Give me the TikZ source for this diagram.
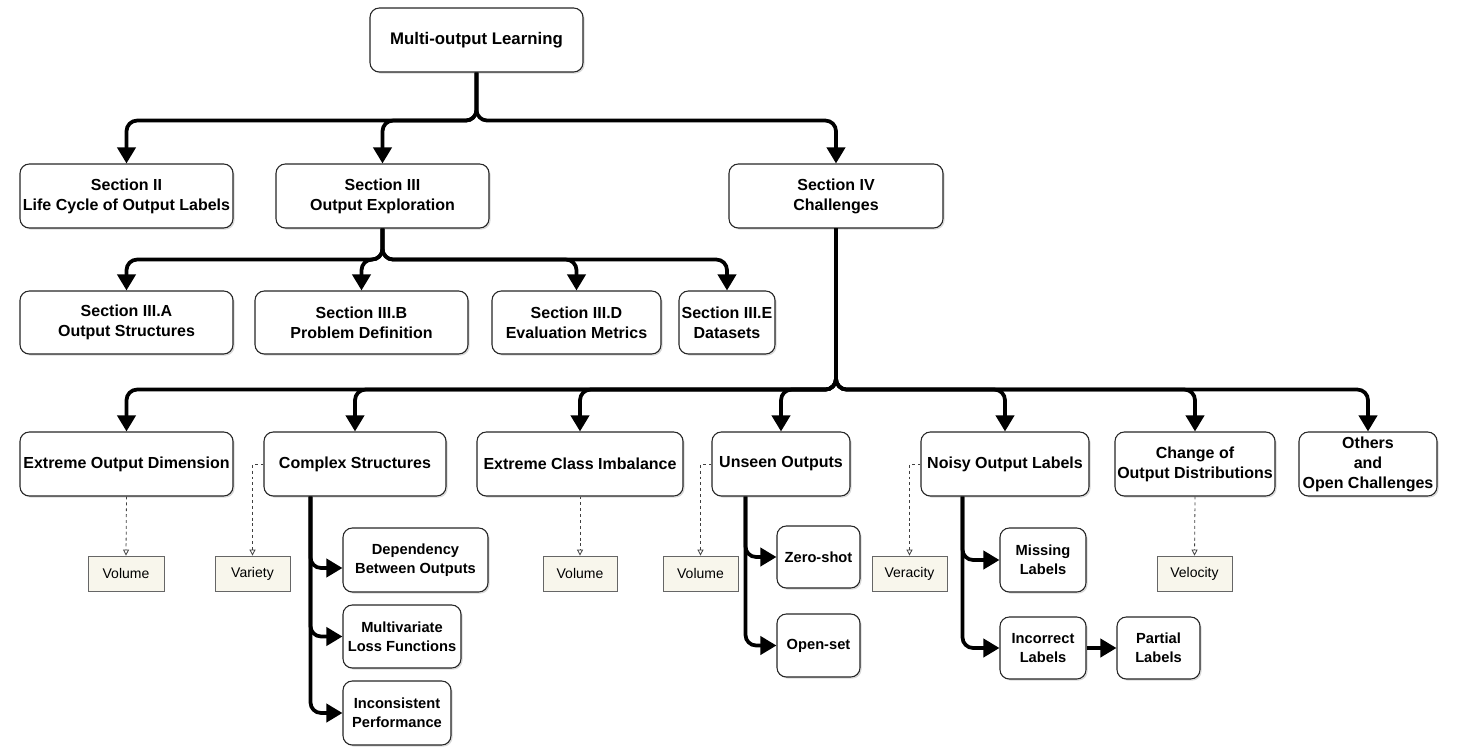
\documentclass[tikz,border=0pt]{standalone}
\usepackage{fontspec}
\setmainfont{Liberation Sans}
\usetikzlibrary{arrows.meta,shadows,calc}
\definecolor{beige}{RGB}{248,246,236}
\newcommand\boxnode[7]{\node[#1, minimum width={(#5-#3)*0.75pt}, minimum height={(#6-#4)*0.75pt}] (#2) at ({(#3+#5)/2},{(#4+#6)/2}) {#7};}
\tikzset{
  mbox/.style={draw=black!85, line width=0.8pt, rounded corners=7pt, fill=white, align=center, inner sep=0pt,
    font=\bfseries\fontsize{12}{15}\selectfont,
    drop shadow={opacity=0.3, shadow xshift=1.2pt, shadow yshift=-1.2pt}},
  sbox/.style={mbox, font=\bfseries\fontsize{11}{14}\selectfont},
  vbox/.style={draw=black!60, line width=0.6pt, fill=beige, inner sep=0pt, font=\fontsize{10.5}{12}\selectfont},
  conn/.style={line width=2.8pt, rounded corners=8pt, -{Triangle[length=12pt,width=13.5pt]}},
  dconn/.style={draw=black!75, line width=0.6pt, dash pattern=on 2.2pt off 2.2pt, -{Triangle[open,length=4.5pt,width=4.5pt]}}
}
\begin{document}
\begin{tikzpicture}[x=0.75pt,y=-0.75pt]
\useasboundingbox (0,0) rectangle (1459,754);
% level 0
\boxnode{mbox,font=\bfseries\fontsize{12.6}{15}\selectfont}{mol}{370}{8}{583}{72}{Multi-output Learning}
% level 1
\boxnode{mbox}{s2}{20}{164}{233}{228}{Section II\\Life Cycle of Output Labels}
\boxnode{mbox}{s3}{276}{164}{489}{228}{Section III\\Output Exploration}
\boxnode{mbox}{s4}{729}{164}{943}{228}{Section IV\\Challenges}
% level 2 (section III)
\boxnode{mbox}{s3a}{20}{291}{233}{354}{Section III.A\\Output Structures}
\boxnode{mbox}{s3b}{255}{291}{468}{354}{Section III.B\\Problem Definition}
\boxnode{mbox}{s3d}{492}{291}{661}{354}{Section III.D\\Evaluation Metrics}
\boxnode{mbox}{s3e}{679}{291}{775}{354}{Section III.E\\Datasets}
% level 2 (section IV)
\boxnode{mbox}{eod}{20}{432}{233}{496}{Extreme Output Dimension}
\boxnode{mbox}{cs}{264}{432}{446}{496}{Complex Structures}
\boxnode{mbox}{eci}{477}{432}{683}{496}{Extreme Class Imbalance}
\boxnode{mbox}{uo}{712}{432}{850}{496}{Unseen Outputs}
\boxnode{mbox}{nol}{921}{432}{1089}{496}{Noisy Output Labels}
\boxnode{mbox}{cod}{1115}{432}{1275}{496}{Change of\\Output Distributions}
\boxnode{mbox}{ooc}{1299}{432}{1437}{496}{Others\\and\\Open Challenges}
% level 3
\boxnode{sbox}{dbo}{343}{528}{488}{592}{Dependency\\Between Outputs}
\boxnode{sbox}{mlf}{343}{605}{461}{668}{Multivariate\\Loss Functions}
\boxnode{sbox}{ip}{343}{681}{451}{745}{Inconsistent\\Performance}
\boxnode{sbox}{zs}{777}{526}{860}{588}{Zero-shot}
\boxnode{sbox}{os}{777}{614}{860}{677}{Open-set}
\boxnode{sbox}{ml}{1000}{528}{1086}{592}{Missing\\Labels}
\boxnode{sbox}{il}{1000}{617}{1086}{679}{Incorrect\\Labels}
\boxnode{sbox}{pl}{1117}{617}{1200}{679}{Partial\\Labels}
% V boxes
\boxnode{vbox}{v1}{88}{556}{164}{591}{Volume}
\boxnode{vbox}{v2}{215}{556}{290}{591}{Variety}
\boxnode{vbox}{v3}{543}{556}{617}{591}{Volume}
\boxnode{vbox}{v4}{663}{556}{738}{591}{Volume}
\boxnode{vbox}{v5}{872}{556}{947}{591}{Veracity}
\boxnode{vbox}{v6}{1157}{556}{1232}{591}{Velocity}
% connectors level 0 -> 1
\draw[conn] (mol.south) -- ++(0,48) -| (s2.north);
\draw[conn] (mol.south) -- ++(0,48) -| (s3.north);
\draw[conn] (mol.south) -- ++(0,48) -| (s4.north);
% section III
\draw[conn] (s3.south) -- ++(0,31) -| (s3a.north);
\draw[conn] (s3.south) -- ++(0,31) -| (s3b.north);
\draw[conn] (s3.south) -- ++(0,31) -| (s3d.north);
\draw[conn] (s3.south) -- ++(0,31) -| (s3e.north);
% section IV
\foreach \t in {eod,cs,eci,uo,nol,cod,ooc}{
  \draw[conn] (s4.south) -- ++(0,161) -| (\t.north);
}
% complex structures
\coordinate (csb) at ($(cs.south west)+(47,0)$);
\draw[conn] (csb) |- ([yshift=-6pt]dbo.west);
\draw[conn] (csb) |- (mlf.west);
\draw[conn] (csb) |- (ip.west);
% unseen outputs
\coordinate (uob) at ($(uo.south west)+(34,0)$);
\draw[conn] (uob) |- (zs.west);
\draw[conn] (uob) |- (os.west);
% noisy output labels
\coordinate (nob) at ($(nol.south west)+(42,0)$);
\draw[conn] (nob) |- (ml.west);
\draw[conn] (nob) |- (il.west);
\draw[conn] (il) -- (pl);
% dashed
\draw[dconn] (eod.south) -- (v1.north);
\draw[dconn] (cs.west) -| (v2.north);
\draw[dconn] (eci.south) -- (v3.north);
\draw[dconn] (uo.west) -| (v4.north);
\draw[dconn] (nol.west) -| (v5.north);
\draw[dconn] (cod.south) -- (v6.north);
\end{tikzpicture}
\end{document}
